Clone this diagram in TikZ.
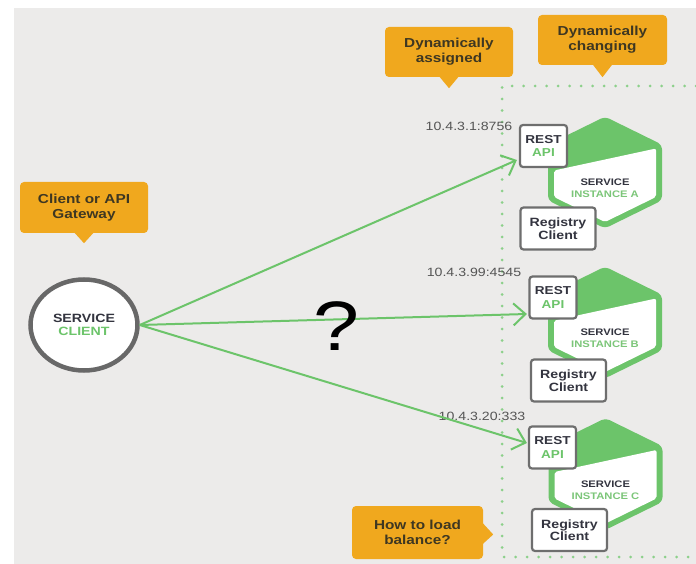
\documentclass[tikz,border=0pt]{standalone}
\usepackage{fontspec}
\setmainfont[FakeStretch=1.18]{Liberation Sans}
\usetikzlibrary{arrows.meta,shapes.geometric,calc}

\definecolor{bggray}{HTML}{ECEBEA}
\definecolor{callout}{HTML}{F0A81E}
\definecolor{callouttext}{HTML}{3E3722}
\definecolor{leaf}{HTML}{6CC46A}
\definecolor{leaflight}{HTML}{7CC679}
\definecolor{dotgreen}{HTML}{8CD08A}
\definecolor{ink}{HTML}{33343F}
\definecolor{frame}{HTML}{6E6E6E}
\definecolor{ringgray}{HTML}{686868}
\definecolor{iptext}{HTML}{555555}

\tikzset{
  note/.style={fill=callout, rounded corners=4pt, inner sep=0pt, align=center,
    text=callouttext, font=\bfseries\fontsize{13}{15}\selectfont},
  apibox/.style={draw=frame, fill=white, line width=2.2pt, rounded corners=3pt,
    inner sep=0pt, minimum width=47pt, minimum height=42pt, align=center,
    font=\bfseries\fontsize{11.5}{13.5}\selectfont, text=ink},
  regbox/.style={apibox, minimum width=75pt, minimum height=42pt,
    font=\bfseries\fontsize{12}{12.5}\selectfont},
  link/.style={draw=leaf, line width=2pt,
    -{Straight Barb[length=12pt,width=22pt,line width=2pt]}},
  iplabel/.style={text=iptext, font=\fontsize{12}{12}\selectfont, inner sep=0pt},
  dotline/.style={draw=dotgreen, line width=3pt, line cap=round,
    dash pattern=on 0pt off 11.5pt},
}

% one service instance: hexagon with a green lid and its caption
% #1 caption node name, #2 centre, #3 instance letter
\newcommand\svcinstance[3]{%
  \begin{scope}[shift={#2}]
    \fill[leaf, draw=leaf, line width=6pt, line join=round, rounded corners=3pt]
      (0,-52.5) -- (54,-26) -- (54,26) -- (0,52.5) -- (-54,26) -- (-54,-26) -- cycle;
    \fill[white, rounded corners=2pt]
      (-51,-2) -- (51,-24) -- (51,24.5) -- (0,49.5) -- (-51,24.5) -- cycle;
    \node[align=center, inner sep=0pt, font=\bfseries\fontsize{9.5}{12}\selectfont]
      (#1) at (0,16) {\textcolor{ink}{SERVICE}\\\textcolor{leaflight}{INSTANCE #3}};
  \end{scope}}

\begin{document}
\begin{tikzpicture}[x=1pt, y=-1pt]
  \useasboundingbox (0,0) rectangle (696,564);
  \fill[bggray] (14,8) rectangle (696,564);

  % dynamic area
  \draw[dotline] (696,86) -- (502,86) -- (502,557) -- (696,557);

  % callouts
  \node[note, minimum width=128pt, minimum height=51pt] (gw) at (84,207.5) {Client or API\\Gateway};
  \fill[callout] ([xshift=-10pt,yshift=1pt]gw.south) -- ([yshift=-10pt]gw.south)
    -- ([xshift=10pt,yshift=1pt]gw.south) -- cycle;

  \node[note, minimum width=128pt, minimum height=50pt] (assigned) at (449,52) {Dynamically\\assigned};
  \fill[callout] ([xshift=-10pt,yshift=1pt]assigned.south) -- ([yshift=-11pt]assigned.south)
    -- ([xshift=10pt,yshift=1pt]assigned.south) -- cycle;

  \node[note, minimum width=129pt, minimum height=50pt] (changing) at (602.5,40) {Dynamically\\changing};
  \fill[callout] ([xshift=-10pt,yshift=1pt]changing.south) -- ([yshift=-12pt]changing.south)
    -- ([xshift=10pt,yshift=1pt]changing.south) -- cycle;

  \node[note, minimum width=131pt, minimum height=53pt] (balance) at (417.5,532.5) {How to load\\balance?};
  \fill[callout] ([xshift=-1pt,yshift=10pt]balance.east) -- ([xshift=10pt,yshift=-2pt]balance.east)
    -- ([xshift=-1pt,yshift=-12pt]balance.east) -- cycle;

  % service instances
  \svcinstance{instA}{(605,172.5)}{A}
  \svcinstance{instB}{(605,322.5)}{B}
  \svcinstance{instC}{(605.5,474)}{C}

  % addresses
  \node[iplabel] (ipA) at (469,126) {10.4.3.1:8756};
  \node[iplabel] (ipB) at (474,272) {10.4.3.99:4545};
  \node[iplabel] (ipC) at (482,416) {10.4.3.20:333};

  % client
  \node[ellipse, draw=ringgray, line width=4.5pt, fill=white, minimum width=107pt,
    minimum height=91pt, inner sep=0pt, align=center,
    font=\bfseries\fontsize{12}{13}\selectfont] (client) at (84,325)
    {\textcolor{ink}{SERVICE}\\\textcolor{leaf}{CLIENT}};

  % REST endpoints and registry clients
  \node[apibox] (restA) at (543.5,146) {REST\\\textcolor{leaf}{API}};
  \node[apibox] (restB) at (553,297.5) {REST\\\textcolor{leaf}{API}};
  \node[apibox] (restC) at (552.5,447.5) {REST\\\textcolor{leaf}{API}};

  \node[regbox] (regA) at (558,228.5) {Registry\\Client};
  \node[regbox] (regB) at (568.5,380.5) {Registry\\Client};
  \node[regbox] (regC) at (569.5,530) {Registry\\Client};

  % requests
  \coordinate (tipA) at ([xshift=-2pt,yshift=-14pt]restA.west);
  \coordinate (tipB) at ([xshift=-1.5pt,yshift=-16.5pt]restB.west);
  \coordinate (tipC) at ([xshift=-1pt,yshift=4.5pt]restC.west);
  \draw[link] (client.east) -- (tipA);
  \draw[link] (client.east) -- (tipB);
  \draw[link] (client.east) -- (tipC);

  \node[font=\fontsize{70}{70}\selectfont, inner sep=0pt] (qm) at (336,326) {?};
\end{tikzpicture}
\end{document}
